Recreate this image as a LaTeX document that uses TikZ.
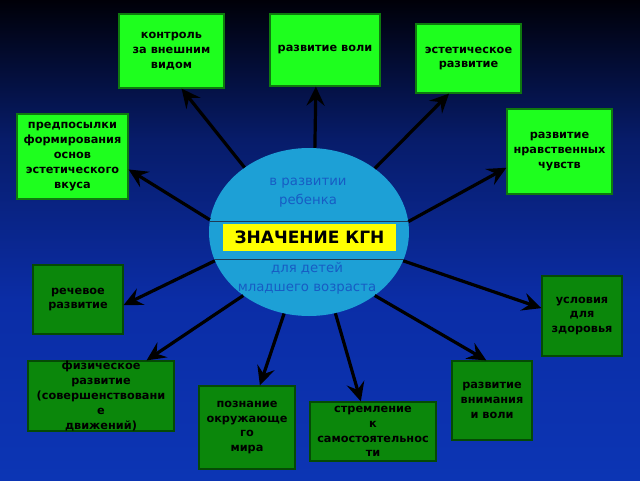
\documentclass[tikz,border=0pt]{standalone}
\usepackage{fontspec}
\setmainfont{DejaVu Sans}
\usetikzlibrary{arrows.meta,shapes.geometric}
\definecolor{bgtop}{HTML}{000008}
\definecolor{bgup}{HTML}{071C6A}
\definecolor{bgmid}{HTML}{0B2DA6}
\definecolor{bgbot}{HTML}{0C35B4}
\definecolor{lgreen}{HTML}{1EFF1E}
\definecolor{lgreenb}{HTML}{0E7A0E}
\definecolor{dgreen}{HTML}{0B870B}
\definecolor{dgreenb}{HTML}{054A05}
\definecolor{ellfill}{HTML}{1DA0D6}
\definecolor{elltext}{HTML}{175CC4}
\definecolor{bandline}{HTML}{1F3A55}
\definecolor{kgn}{HTML}{FFFF00}
\begin{document}
\begin{tikzpicture}[x=1pt,y=-1pt,
  box/.style={rectangle, draw, line width=1.2pt, align=center, inner sep=0pt,
    font=\bfseries\fontsize{11.3}{14.8}\selectfont, text=black},
  lbox/.style={box, fill=lgreen, draw=lgreenb},
  dbox/.style={box, fill=dgreen, draw=dgreenb},
  arr/.style={-{Stealth[length=19pt,width=18pt,inset=7pt]}, line width=3.2pt, black},
  etext/.style={text=elltext, font=\fontsize{13.3}{19}\selectfont, align=center, inner sep=0pt}]
\useasboundingbox (0,0) rectangle (640,480);
\shade[top color=bgtop, bottom color=bgup] (0,0) rectangle (640,140);
\shade[top color=bgup, bottom color=bgmid] (0,140) rectangle (640,300);
\shade[top color=bgmid, bottom color=bgbot] (0,300) rectangle (640,480);

\node[ellipse, fill=ellfill, minimum width=200pt, minimum height=168pt, inner sep=0pt] (e) at (309,232) {};
\begin{scope}
  \clip (309,232) ellipse [x radius=100, y radius=84];
  \draw[bandline, line width=1pt] (200,221) -- (420,221);
  \draw[bandline, line width=1pt] (200,259) -- (420,259);
\end{scope}
\node[etext] (t1) at (308,193) {в развитии\\ребенка};
\node[etext] (t2) at (307,278) {для детей\\младшего возраста};
\node[fill=kgn, minimum width=173pt, minimum height=27pt, inner sep=0pt,
  font=\bfseries\fontsize{17}{20}\selectfont] (kgn) at (309.5,237.5) {ЗНАЧЕНИЕ КГН};

\node[lbox, minimum width=105pt, minimum height=74pt] (k1) at (171.5,51) {контроль\\за внешним\\видом};
\node[lbox, minimum width=110pt, minimum height=72pt] (k2) at (325,50) {развитие воли};
\node[lbox, minimum width=105pt, minimum height=69pt] (k3) at (468.5,58.5) {эстетическое\\развитие};
\node[lbox, minimum width=105pt, minimum height=85pt] (k4) at (559.5,151.5) {развитие\\нравственных\\чувств};
\node[lbox, minimum width=111pt, minimum height=85pt] (k5) at (72.5,156.5) {предпосылки\\формирования\\основ\\эстетического\\вкуса};
\node[dbox, minimum width=90pt, minimum height=69pt] (k6) at (78,299.5) {речевое\\развитие};
\node[dbox, minimum width=146pt, minimum height=70pt] (k7) at (101,396) {физическое\\развитие\\(совершенствовани\\е\\движений)};
\node[dbox, minimum width=96pt, minimum height=83pt] (k8) at (247,427.5) {познание\\окружающе\\го\\мира};
\node[dbox, minimum width=126pt, minimum height=59pt] (k9) at (373,431.5) {стремление\\к\\самостоятельнос\\ти};
\node[dbox, minimum width=80pt, minimum height=79pt] (k10) at (492,400.5) {развитие\\внимания\\и воли};
\node[dbox, minimum width=80pt, minimum height=80pt] (k11) at (582,316) {условия\\для\\здоровья};

\draw[arr] (e.135) -- (k1.285);
\draw[arr] (e.86) -- (k2.256);
\draw[arr] (e.44) -- (k3.241);
\draw[arr] (e.6) -- (k4.197);
\draw[arr] (e.173) -- (k5.347);
\draw[arr] (e.197.5) -- (k6.353);
\draw[arr] (e.224.5) -- (k7.38);
\draw[arr] (e.253) -- (k8.73);
\draw[arr] (e.288) -- (k9.112);
\draw[arr] (e.316) -- (k10.98);
\draw[arr] (e.343) -- (k11.169);
\end{tikzpicture}
\end{document}
